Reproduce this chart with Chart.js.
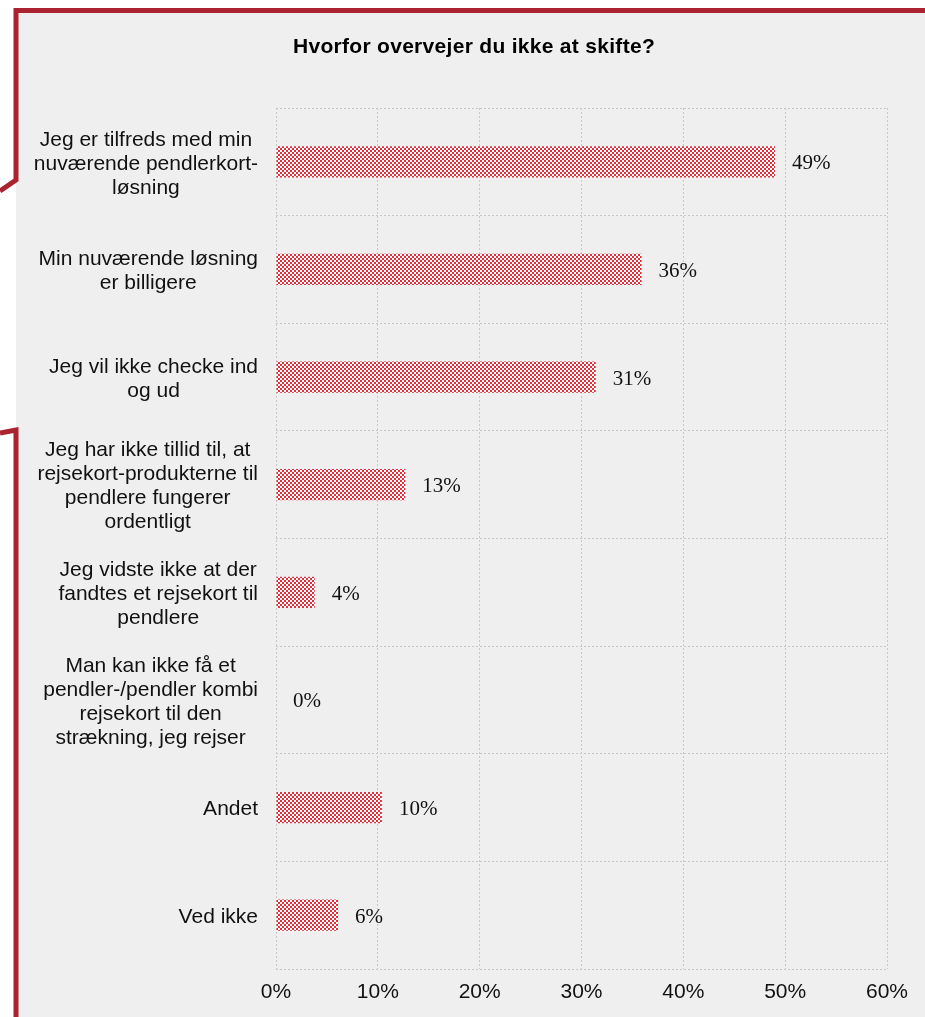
<!DOCTYPE html>
<html>
<head>
<meta charset="utf-8">
<title>Hvorfor overvejer du ikke at skifte?</title>
<script src="https://cdn.jsdelivr.net/npm/chart.js@4"></script>
<style>
  html, body { margin: 0; padding: 0; background: #ffffff; }
  canvas { display: block; }
</style>
</head>
<body>
<canvas id="skifteChart" width="925" height="1017"></canvas>
<script>
// Chart data
const chartTitle = "Hvorfor overvejer du ikke at skifte?";
const categories = [
  ["Jeg er tilfreds med min", "nuværende pendlerkort-", "løsning"],
  ["Min nuværende løsning", "er billigere"],
  ["Jeg vil ikke checke ind", "og ud"],
  ["Jeg har ikke tillid til, at", "rejsekort-produkterne til", "pendlere fungerer", "ordentligt"],
  ["Jeg vidste ikke at der", "fandtes et rejsekort til", "pendlere"],
  ["Man kan ikke få et", "pendler-/pendler kombi", "rejsekort til den", "strækning, jeg rejser"],
  ["Andet"],
  ["Ved ikke"]
];
const shares = [49.0, 35.9, 31.4, 12.7, 3.8, 0, 10.4, 6.1];
const shareLabels = ["49%", "36%", "31%", "13%", "4%", "0%", "10%", "6%"];
const xTicks = [0, 10, 20, 30, 40, 50, 60];

const labelFont = '21px "Liberation Sans", Arial, sans-serif';

// Checkered red/white fill like the original
function makeCheckerPattern() {
  const c = document.createElement("canvas");
  c.width = 4;
  c.height = 4;
  const g = c.getContext("2d");
  g.fillStyle = "#ffffff";
  g.fillRect(0, 0, 4, 4);
  g.fillStyle = "#e52d3a";
  g.fillRect(0, 0, 2, 2);
  g.fillRect(2, 2, 2, 2);
  return document.getElementById("skifteChart").getContext("2d").createPattern(c, "repeat");
}

// Background, red frame and title
const framePlugin = {
  id: "frame",
  beforeDraw(chart) {
    const ctx = chart.ctx;
    ctx.save();
    ctx.fillStyle = "#ffffff";
    ctx.fillRect(0, 0, chart.width, chart.height);
    ctx.fillStyle = "#efefef";
    ctx.fillRect(16, 10, chart.width - 16, chart.height - 10);

    ctx.strokeStyle = "#ab2230";
    ctx.lineWidth = 5;
    ctx.lineJoin = "miter";
    ctx.beginPath();
    ctx.moveTo(0, 191);
    ctx.lineTo(16, 180);
    ctx.lineTo(16, 10.5);
    ctx.lineTo(chart.width, 10.5);
    ctx.stroke();
    ctx.beginPath();
    ctx.moveTo(0, 433);
    ctx.lineTo(16, 430);
    ctx.lineTo(16, chart.height);
    ctx.stroke();

    ctx.fillStyle = "#000000";
    ctx.font = 'bold 21px "Liberation Sans", Arial, sans-serif';
    if ("letterSpacing" in ctx) ctx.letterSpacing = "0.3px";
    ctx.textAlign = "center";
    ctx.textBaseline = "middle";
    ctx.fillText(chartTitle, 474, 47);
    ctx.restore();
  }
};

// Category labels: block right aligned, lines centered inside the block
const categoryLabelPlugin = {
  id: "categoryLabels",
  afterDraw(chart) {
    const ctx = chart.ctx;
    const yScale = chart.scales.y;
    const lineHeight = 24;
    ctx.save();
    ctx.font = labelFont;
    ctx.fillStyle = "#111111";
    ctx.textAlign = "center";
    ctx.textBaseline = "middle";
    categories.forEach((lines, i) => {
      const widest = Math.max(...lines.map((l) => ctx.measureText(l).width));
      const cx = 258 - widest / 2;
      const cy = yScale.getPixelForValue(i) + 2;
      const startY = cy - ((lines.length - 1) * lineHeight) / 2;
      lines.forEach((line, j) => {
        ctx.fillText(line, cx, startY + j * lineHeight);
      });
    });
    ctx.restore();
  }
};

// Value labels after each bar
const valueLabelPlugin = {
  id: "valueLabels",
  afterDatasetsDraw(chart) {
    const ctx = chart.ctx;
    const bars = chart.getDatasetMeta(0).data;
    ctx.save();
    ctx.font = '21px "Liberation Serif", "Times New Roman", serif';
    ctx.fillStyle = "#111111";
    ctx.textAlign = "left";
    ctx.textBaseline = "middle";
    bars.forEach((bar, i) => {
      ctx.fillText(shareLabels[i], bar.x + 17, bar.y + 2);
    });
    ctx.restore();
  }
};

new Chart(document.getElementById("skifteChart"), {
  type: "bar",
  data: {
    labels: categories,
    datasets: [
      {
        label: chartTitle,
        data: shares,
        backgroundColor: makeCheckerPattern(),
        borderWidth: 0,
        categoryPercentage: 1.0,
        barPercentage: 0.29
      }
    ]
  },
  options: {
    indexAxis: "y",
    responsive: false,
    animation: false,
    devicePixelRatio: 1,
    layout: {
      padding: { top: 108, right: 38, bottom: 0, left: 0 }
    },
    plugins: {
      legend: { display: false },
      title: { display: false },
      tooltip: { enabled: false }
    },
    scales: {
      x: {
        min: xTicks[0],
        max: xTicks[xTicks.length - 1],
        afterBuildTicks(scale) {
          scale.ticks = xTicks.map((v) => ({ value: v }));
        },
        afterFit(scale) {
          scale.height = 48;
        },
        grid: {
          color: "#c8c8c8",
          lineWidth: 1,
          drawTicks: false
        },
        border: { display: false, dash: [2, 2] },
        ticks: {
          padding: 11,
          color: "#111111",
          font: { family: '"Liberation Sans", Arial, sans-serif', size: 21 },
          callback: (v) => v + "%"
        }
      },
      y: {
        afterFit(scale) {
          scale.width = 276;
        },
        grid: {
          color: "#c8c8c8",
          lineWidth: 1,
          drawTicks: false,
          offset: true
        },
        border: { display: false, dash: [2, 2] },
        ticks: { display: false }
      }
    }
  },
  plugins: [framePlugin, categoryLabelPlugin, valueLabelPlugin]
});
</script>
</body>
</html>
